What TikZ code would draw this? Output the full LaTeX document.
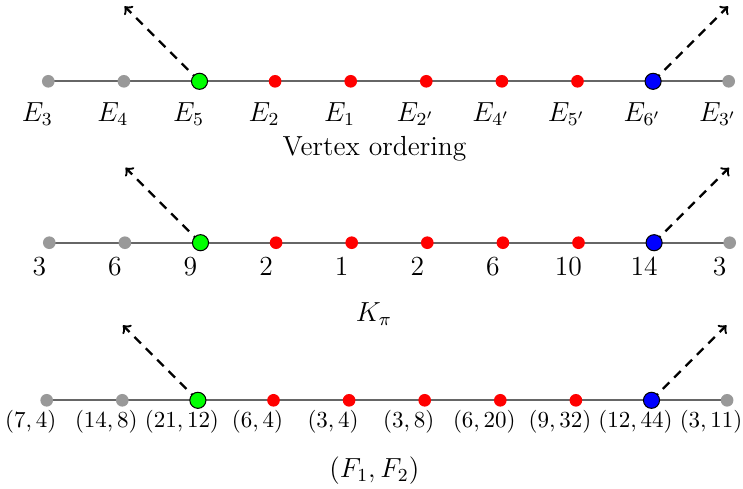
\documentclass[tikz,border=0pt]{standalone}
\usetikzlibrary{backgrounds}
\begin{document}
\begin{tikzpicture}[x=0.435pt,y=-0.435pt]
\tikzset{
  edgeline/.style={draw=black!60, line width=0.8pt},
  sdot/.style={circle, inner sep=0pt, minimum size=5.5pt},
  gdot/.style={sdot, fill=black!40},
  rdot/.style={sdot, fill=red},
  bignode/.style={circle, draw=black, line width=0.45pt, inner sep=0pt, minimum size=7pt},
  gnode/.style={bignode, fill=green},
  bnode/.style={bignode, fill=blue},
  dasharrow/.style={->, dash pattern=on 4pt off 3pt, line width=1pt, black},
  labA/.style={anchor=base, inner sep=0pt, font=\large},
  labB/.style={anchor=base, inner sep=0pt, font=\large},
  labC/.style={anchor=base, inner sep=0pt, font=\normalsize},
  captext/.style={anchor=base, inner sep=0pt, font=\large}
}
\useasboundingbox (0,0) rectangle (743,488);

% Row 1
\foreach \s [count=\i] in {gdot,gdot,gnode,rdot,rdot,rdot,rdot,rdot,bnode,gdot}{
  \node[\s] (r1n\i) at ({48.3+75.6*(\i-1)},81.3) {};
}
\foreach \t [count=\i] in {E_3,E_4,E_5,E_2,E_1,E_{2'},E_{4'},E_{5'},E_{6'},E_{3'}}{
  \node[labA] (r1l\i) at ({48.3+75.6*(\i-1)-11},121) {$\t$};
}
\node[captext] (cap1) at (374.5,155.7) {Vertex ordering};

% Row 2
\foreach \s [count=\i] in {gdot,gdot,gnode,rdot,rdot,rdot,rdot,rdot,bnode,gdot}{
  \node[\s] (r2n\i) at ({49.3+75.6*(\i-1)},242.7) {};
}
\foreach \t [count=\i] in {3,6,9,2,1,2,6,10,14,3}{
  \node[labB] (r2l\i) at ({49.3+75.6*(\i-1)-10},275) {$\t$};
}
\node[captext] (cap2) at (374,321) {$K_\pi$};

% Row 3
\foreach \s [count=\i] in {gdot,gdot,gnode,rdot,rdot,rdot,rdot,rdot,bnode,gdot}{
  \node[\s] (r3n\i) at ({46.7+75.6*(\i-1)},400.3) {};
}
\foreach \t [count=\i] in {{(7,4)},{(14,8)},{(21,12)},{(6,4)},{(3,4)},{(3,8)},{(6,20)},{(9,32)},{(12,44)},{(3,11)}}{
  \node[labC] (r3l\i) at ({46.7+75.6*(\i-1)-16},427.6) {$\t$};
}
\node[captext] (cap3) at (374.3,477) {$(F_1,F_2)$};

% tips of the dashed arrows
\foreach \r in {1,2,3}{
  \coordinate (r\r tl) at ([shift={(-75,-75)}]r\r n3.center);
  \coordinate (r\r tr) at ([shift={(75,-75)}]r\r n9.center);
}

\begin{pgfonlayer}{background}
\foreach \r in {1,2,3}{
  \foreach \i [evaluate=\i as \j using {int(\i+1)}] in {1,...,9}{
    \draw[edgeline] (r\r n\i.center) -- (r\r n\j.center);
  }
  \draw[dasharrow] (r\r n3.center) -- (r\r tl);
  \draw[dasharrow] (r\r n9.center) -- (r\r tr);
}
\end{pgfonlayer}
\end{tikzpicture}
\end{document}
